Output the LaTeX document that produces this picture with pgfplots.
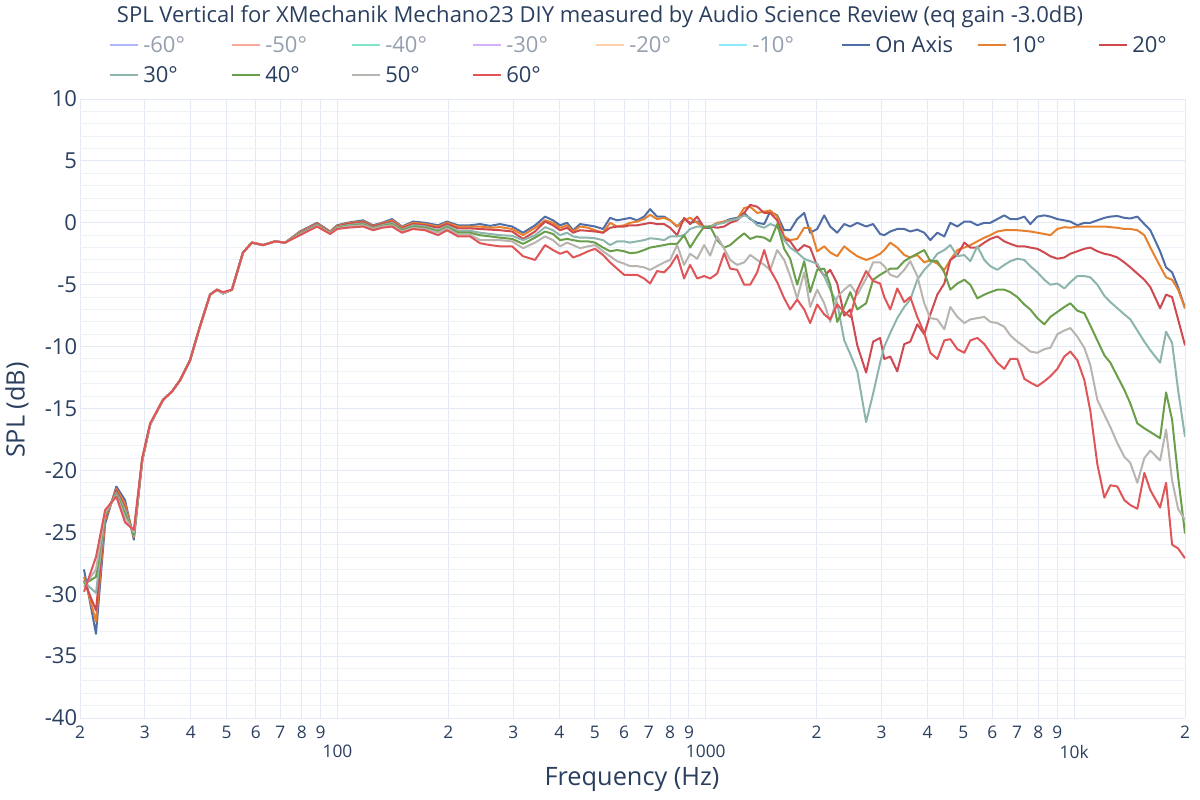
\documentclass[border=0pt]{standalone}
\usepackage{fontspec}
\setmainfont{Open Sans}
\usepackage{pgfplots}
\pgfplotsset{compat=1.18}
\usepackage{pgfplotstable}

\definecolor{txt}{HTML}{2A3F5F}
\definecolor{txtfade}{HTML}{949FAF}
\definecolor{gridc}{HTML}{E4EAF4}
\definecolor{gridm}{HTML}{EEF2F8}
\definecolor{coa}{HTML}{506EA5}
\definecolor{c10}{HTML}{E8812D}
\definecolor{c20}{HTML}{CF4A50}
\definecolor{c30}{HTML}{8DB5AD}
\definecolor{c40}{HTML}{6A9E4A}
\definecolor{c50}{HTML}{B8B4B0}
\definecolor{c60}{HTML}{E05558}
\definecolor{h60}{HTML}{B1B6FC}
\definecolor{h50}{HTML}{F7AA9D}
\definecolor{h40}{HTML}{80E5CA}
\definecolor{h30}{HTML}{D5B1FC}
\definecolor{h20}{HTML}{FFD0AC}
\definecolor{h10}{HTML}{8CE9F9}

\pgfplotstableread{
f oa a10 a20 a30 a40 a50 a60
20.5 -28.0 -28.6 -28.9 -29.0 -29.2 -29.4 -29.8
22.1 -33.2 -32.2 -31.3 -29.9 -28.6 -28.0 -27.0
23.4 -24.3 -24.0 -23.8 -23.6 -23.5 -23.4 -23.2
25.1 -21.3 -21.5 -21.6 -21.8 -21.9 -22.0 -22.1
26.5 -22.4 -22.7 -23.0 -23.2 -23.5 -23.8 -24.2
28.0 -25.6 -25.4 -25.3 -25.3 -25.2 -25.0 -24.8
29.5 -19.2 -19.2 -19.2 -19.2 -19.1 -19.1 -19.0
31.0 -16.3 -16.3 -16.3 -16.3 -16.3 -16.3 -16.2
33.6 -14.3 -14.3 -14.3 -14.3 -14.3 -14.3 -14.3
35.6 -13.6 -13.6 -13.6 -13.6 -13.6 -13.6 -13.6
37.4 -12.7 -12.7 -12.7 -12.7 -12.7 -12.7 -12.7
39.8 -11.1 -11.1 -11.1 -11.1 -11.1 -11.1 -11.1
42.3 -8.4 -8.4 -8.4 -8.4 -8.4 -8.4 -8.4
45.1 -5.8 -5.8 -5.8 -5.8 -5.8 -5.8 -5.8
47.1 -5.4 -5.4 -5.4 -5.4 -5.4 -5.4 -5.4
48.9 -5.7 -5.7 -5.7 -5.7 -5.7 -5.7 -5.6
51.7 -5.4 -5.4 -5.4 -5.4 -5.4 -5.4 -5.4
55.4 -2.4 -2.4 -2.4 -2.4 -2.4 -2.4 -2.4
58.6 -1.6 -1.6 -1.6 -1.6 -1.6 -1.6 -1.6
62.8 -1.8 -1.8 -1.8 -1.8 -1.8 -1.8 -1.8
67.7 -1.5 -1.5 -1.5 -1.5 -1.5 -1.5 -1.5
72.1 -1.6 -1.6 -1.6 -1.6 -1.6 -1.6 -1.6
79.1 -0.7 -0.75 -0.8 -0.85 -0.9 -0.95 -1.0
88.0 0.0 -0.05 -0.1 -0.15 -0.2 -0.25 -0.3
95.5 -0.7 -0.72 -0.75 -0.8 -0.83 -0.86 -0.9
99.8 -0.2 -0.25 -0.3 -0.35 -0.4 -0.45 -0.5
106.2 0.0 -0.05 -0.1 -0.2 -0.25 -0.3 -0.4
117.4 0.2 0.12 0.05 -0.05 -0.12 -0.2 -0.3
124.9 -0.2 -0.25 -0.3 -0.4 -0.45 -0.5 -0.6
132.1 0.0 -0.05 -0.1 -0.2 -0.25 -0.3 -0.4
140.7 0.3 0.2 0.1 0.0 -0.1 -0.2 -0.3
149.7 -0.3 -0.35 -0.45 -0.55 -0.6 -0.7 -0.8
160.4 0.1 0.0 -0.1 -0.2 -0.3 -0.4 -0.5
172.9 0.0 -0.1 -0.2 -0.3 -0.4 -0.5 -0.6
187.6 -0.2 -0.3 -0.4 -0.6 -0.7 -0.8 -1.0
198.4 0.1 0.0 -0.1 -0.25 -0.35 -0.45 -0.6
212.5 -0.2 -0.3 -0.45 -0.65 -0.8 -0.95 -1.1
229.0 -0.2 -0.3 -0.45 -0.65 -0.8 -0.95 -1.1
243.9 -0.1 -0.3 -0.5 -0.8 -1.0 -1.4 -1.65
259.6 -0.25 -0.4 -0.55 -0.9 -1.1 -1.4 -1.8
276.2 -0.1 -0.35 -0.6 -1.0 -1.2 -1.4 -1.9
297.9 -0.3 -0.5 -0.7 -1.05 -1.3 -1.5 -1.9
319.1 -0.8 -1.0 -1.3 -1.4 -1.7 -2.05 -2.7
343.9 -0.2 -0.4 -0.7 -1.0 -1.2 -1.6 -3.0
366.1 0.5 0.2 0.1 -0.35 -0.7 -1.1 -1.8
384.8 0.2 0.0 -0.2 -0.6 -0.9 -1.4 -2.2
402.0 -0.2 -0.4 -0.6 -1.0 -1.4 -1.9 -2.5
420.1 0.0 -0.2 -0.4 -0.8 -1.3 -1.6 -2.3
436.2 -0.6 -0.7 -0.8 -1.1 -1.4 -1.8 -2.8
455.7 -0.1 -0.3 -0.6 -1.2 -1.5 -2.05 -2.6
479.0 -0.2 -0.4 -0.65 -1.2 -1.5 -1.9 -2.3
500.4 -0.3 -0.6 -0.7 -1.25 -1.6 -1.8 -2.1
526.1 -0.5 -0.8 -0.8 -1.4 -2.0 -2.3 -2.6
549.6 0.4 0.0 -0.4 -1.8 -2.3 -2.7 -3.2
574.2 0.2 -0.3 -0.3 -1.5 -2.2 -3.1 -3.7
600.0 0.3 -0.2 -0.3 -1.5 -2.3 -3.3 -4.2
622.9 0.4 0.0 -0.2 -1.6 -2.45 -3.5 -4.2
650.8 0.2 0.1 -0.2 -1.5 -2.4 -3.5 -4.2
680.0 0.5 0.3 -0.1 -1.4 -2.2 -3.6 -4.5
705.9 1.1 0.65 0.0 -1.25 -2.0 -3.8 -4.9
737.5 0.5 0.3 -0.1 -1.3 -1.9 -3.5 -3.9
770.6 0.5 0.4 -0.1 -1.4 -1.8 -3.2 -4.0
800.1 0.2 0.2 -0.4 -1.1 -1.7 -3.0 -3.5
835.9 -0.3 -0.3 -1.0 -1.1 -1.7 -1.8 -2.6
873.0 0.3 0.2 0.4 -1.0 -1.0 -3.4 -4.5
906.7 0.0 0.4 -0.1 -0.5 -2.0 -2.5 -3.4
947.4 0.1 0.0 0.5 -0.3 -1.1 -2.9 -4.5
989.9 -0.4 -0.4 -0.4 -0.3 -0.3 -1.8 -4.3
1027.6 -0.4 -0.3 -0.3 -0.3 -0.3 -2.65 -4.5
1073.7 -0.1 0.0 -0.4 -0.1 -1.4 -1.1 -4.1
1121.8 0.1 0.1 -0.3 0.0 -2.0 -2.1 -2.45
1164.6 0.3 0.2 0.0 0.2 -1.8 -3.0 -3.7
1216.7 0.4 0.3 0.2 0.3 -1.3 -3.4 -3.8
1271.3 0.8 1.2 0.8 0.6 -0.85 -3.2 -5.0
1319.7 0.3 1.3 1.45 0.4 -1.3 -2.6 -5.0
1378.8 0.0 0.8 1.3 -0.2 -1.1 -3.0 -4.0
1440.6 -0.1 0.9 0.8 -0.4 -1.2 -3.4 -2.2
1495.5 0.9 1.0 0.8 -0.1 -1.5 -3.8 -3.8
1562.5 0.6 0.5 0.2 -0.3 -0.1 -2.2 -4.8
1632.5 -0.6 -1.1 -1.3 -1.4 -2.1 -3.0 -6.1
1694.6 -0.6 -1.4 -1.5 -2.0 -2.9 -4.3 -7.0
1770.6 0.3 -1.3 -2.3 -2.4 -5.0 -6.1 -6.2
1849.9 0.8 -0.4 -1.8 -2.9 -3.1 -4.0 -7.0
1920.3 -0.8 -0.4 -2.0 -3.1 -5.6 -6.8 -8.1
2006.3 -0.5 -2.3 -3.5 -3.3 -3.8 -5.4 -6.6
2096.3 0.6 -1.9 -4.3 -4.3 -3.7 -6.5 -7.4
2176.5 -0.3 -2.4 -3.8 -5.4 -5.0 -8.0 -7.8
2273.8 -0.8 -2.7 -4.9 -6.5 -8.0 -6.0 -6.6
2375.9 -0.1 -1.9 -7.5 -9.5 -6.8 -5.4 -7.2
2466.9 -0.3 -2.3 -7.0 -10.6 -5.6 -5.0 -7.6
2577.6 0.0 -2.7 -9.9 -12.0 -7.0 -5.8 -5.4
2724 -0.3 -3.0 -12.1 -16.1 -6.5 -4.5 -3.9
2846 -0.1 -2.8 -9.6 -13.8 -4.6 -3.2 -4.7
2973 -0.9 -2.5 -9.3 -11.3 -4.2 -3.2 -4.9
3051.5 -1.0 -2.2 -11.0 -10.0 -4.0 -3.5 -6.0
3168.2 -0.7 -1.6 -10.8 -8.9 -3.7 -4.2 -7.0
3309.8 -0.5 -2.0 -12.0 -7.7 -3.7 -4.4 -5.3
3457.7 -0.5 -2.6 -9.8 -6.8 -3.1 -3.8 -6.4
3590.2 -0.7 -2.8 -9.6 -6.2 -2.8 -3.1 -6.0
3751.1 -0.55 -2.6 -8.2 -4.6 -2.5 -4.3 -7.6
3918.9 -0.8 -3.2 -9.0 -3.8 -2.2 -6.5 -8.9
4069.0 -1.4 -3.0 -7.4 -3.3 -3.1 -7.7 -10.5
4251.5 -0.8 -3.3 -5.8 -2.5 -3.1 -7.8 -11.0
4441.5 -1.1 -3.8 -4.9 -2.2 -4.0 -8.6 -9.5
4611.3 0.0 -3.0 -3.0 -1.8 -5.4 -6.8 -9.4
4817.6 -0.3 -2.2 -2.6 -2.7 -4.9 -7.6 -10.2
5033.3 0.1 -2.0 -1.6 -2.6 -4.6 -8.1 -10.5
5225.9 0.1 -1.8 -2.0 -3.1 -5.0 -7.8 -9.5
5459.7 -0.2 -1.5 -2.0 -1.9 -6.1 -7.7 -9.3
5704.0 0.0 -1.2 -1.6 -3.0 -5.8 -7.6 -9.8
5922.1 0.0 -1.0 -1.3 -3.5 -5.6 -8.0 -10.5
6186.7 0.3 -0.7 -1.1 -3.8 -5.4 -8.1 -11.3
6463.6 0.6 -0.6 -1.5 -3.4 -5.4 -8.4 -11.8
6710.8 0.3 -0.6 -1.7 -3.1 -5.6 -9.1 -11.0
7011.2 0.3 -0.6 -1.9 -2.9 -6.0 -9.6 -11.0
7324.9 0.5 -0.65 -1.9 -3.0 -6.6 -10.0 -12.6
7604.9 -0.1 -0.7 -2.0 -3.5 -7.0 -10.4 -12.9
7945.1 0.5 -0.8 -2.1 -4.0 -7.7 -10.5 -13.2
8300.2 0.6 -0.9 -2.4 -4.6 -8.2 -10.2 -12.8
8617.6 0.5 -1.0 -2.7 -5.0 -7.6 -10.1 -12.4
9003.0 0.3 -0.5 -2.9 -4.9 -7.2 -9.0 -11.8
9405.7 0.2 -0.35 -2.8 -5.3 -6.8 -8.7 -10.8
9765.3 0.1 -0.4 -2.5 -4.8 -6.5 -8.5 -10.4
10202 -0.2 -0.3 -2.3 -4.3 -7.1 -9.2 -11.1
10658 0.0 -0.3 -2.1 -4.3 -7.3 -10.1 -12.7
11066 0.0 -0.3 -2.0 -4.4 -8.3 -11.5 -15.2
11561 0.2 -0.3 -2.3 -5.0 -9.5 -14.3 -19.5
12079 0.4 -0.3 -2.5 -5.9 -10.7 -15.5 -22.2
12540 0.5 -0.35 -2.6 -6.4 -11.3 -16.5 -21.2
13101 0.55 -0.4 -2.8 -6.9 -12.4 -17.8 -21.3
13688 0.4 -0.5 -3.2 -7.4 -13.5 -18.9 -22.4
14211 0.35 -0.5 -3.6 -7.8 -14.6 -19.4 -22.8
14847 0.5 -0.6 -4.1 -8.7 -16.2 -21.0 -23.1
15511 -0.1 -1.0 -4.6 -9.6 -16.6 -19.0 -20.2
16105 -0.6 -2.0 -5.2 -10.3 -16.9 -18.4 -21.6
17114 -2.3 -3.5 -6.9 -11.3 -17.4 -19.2 -23.0
17768 -3.6 -4.4 -5.8 -8.8 -13.7 -16.7 -21.0
18447 -4.0 -4.6 -6.0 -9.7 -15.9 -20.8 -26.0
19152 -5.2 -5.4 -7.8 -13.5 -20.5 -23.1 -26.3
20000 -6.9 -6.9 -9.9 -17.3 -25.1 -24.0 -27.1
}\spl

\begin{document}
\begin{tikzpicture}
\begin{scope}[x=0.75pt,y=-0.75pt]
\path[use as bounding box] (0,0) rectangle (1200,800);
\end{scope}
\begin{axis}[
  at={(60pt,-538.5pt)}, anchor=south west,
  scale only axis, width=828.75pt, height=464.25pt,
  xmode=log, xmin=20, xmax=20000, ymin=-40, ymax=10,
  axis line style={draw=none},
  major tick length=0pt, minor tick length=0pt,
  xtick={20,30,40,50,60,70,80,90,200,300,400,500,600,700,800,900,2000,3000,4000,5000,6000,7000,8000,9000,20000},
  xticklabels={2,3,4,5,6,7,8,9,2,3,4,5,6,7,8,9,2,3,4,5,6,7,8,9,2},
  extra x ticks={100,1000,10000},
  extra x tick labels={100,1000,10k},
  extra x tick style={grid=major, tick label style={yshift=-14pt}},
  ytick={-40,-35,-30,-25,-20,-15,-10,-5,0,5,10},
  yticklabels={-40,-35,-30,-25,-20,-15,-10,-5,0,5,10},
  minor ytick={-39,-38,-37,-36,-34,-33,-32,-31,-29,-28,-27,-26,-24,-23,-22,-21,-19,-18,-17,-16,-14,-13,-12,-11,-9,-8,-7,-6,-4,-3,-2,-1,1,2,3,4,6,7,8,9},
  grid=both,
  major grid style={draw=gridc, line width=0.75pt},
  minor grid style={draw=gridm, line width=0.75pt},
  xticklabel style={font=\fontsize{13}{15}\selectfont, text=txt, inner sep=1pt, yshift=-5pt},
  yticklabel style={font=\fontsize{16.5}{18}\selectfont, text=txt, inner sep=2pt},
  every axis plot/.append style={line width=1.5pt, line join=round, mark=none},
]
\addplot[coa] table[x=f,y=oa] {\spl};
\addplot[c10] table[x=f,y=a10] {\spl};
\addplot[c20] table[x=f,y=a20] {\spl};
\addplot[c30] table[x=f,y=a30] {\spl};
\addplot[c40] table[x=f,y=a40] {\spl};
\addplot[c50] table[x=f,y=a50] {\spl};
\addplot[c60] table[x=f,y=a60] {\spl};
\end{axis}
\begin{scope}[x=0.75pt,y=-0.75pt]
\node[text=txt, font=\fontsize{16.5}{18}\selectfont] at (600,17) {SPL Vertical for XMechanik Mechano23 DIY measured by Audio Science Review (eq gain -3.0dB)};
\node[text=txt, font=\fontsize{19}{21}\selectfont, rotate=90] at (17,410) {SPL (dB)};
\node[text=txt, font=\fontsize{19}{21}\selectfont] at (632,779) {Frequency (Hz)};
\foreach \lx/\lc/\lt/\ltc/\ly in {110/h60/-60°/txtfade/45, 232/h50/-50°/txtfade/45, 352/h40/-40°/txtfade/45, 473/h30/-30°/txtfade/45, 596/h20/-20°/txtfade/45, 719/h10/-10°/txtfade/45, 842/coa/On Axis/txt/45, 978/c10/10°/txt/45, 1099/c20/20°/txt/45, 110/c30/30°/txt/75, 232/c40/40°/txt/75, 352/c50/50°/txt/75, 473/c60/60°/txt/75} {
  \draw[\lc, line width=1.5pt] (\lx,\ly) -- ++(28,0);
  \node[anchor=west, text=\ltc, font=\fontsize{16.5}{18}\selectfont, inner sep=0pt] at (\lx+33,\ly) {\lt};
}
\end{scope}
\end{tikzpicture}
\end{document}
